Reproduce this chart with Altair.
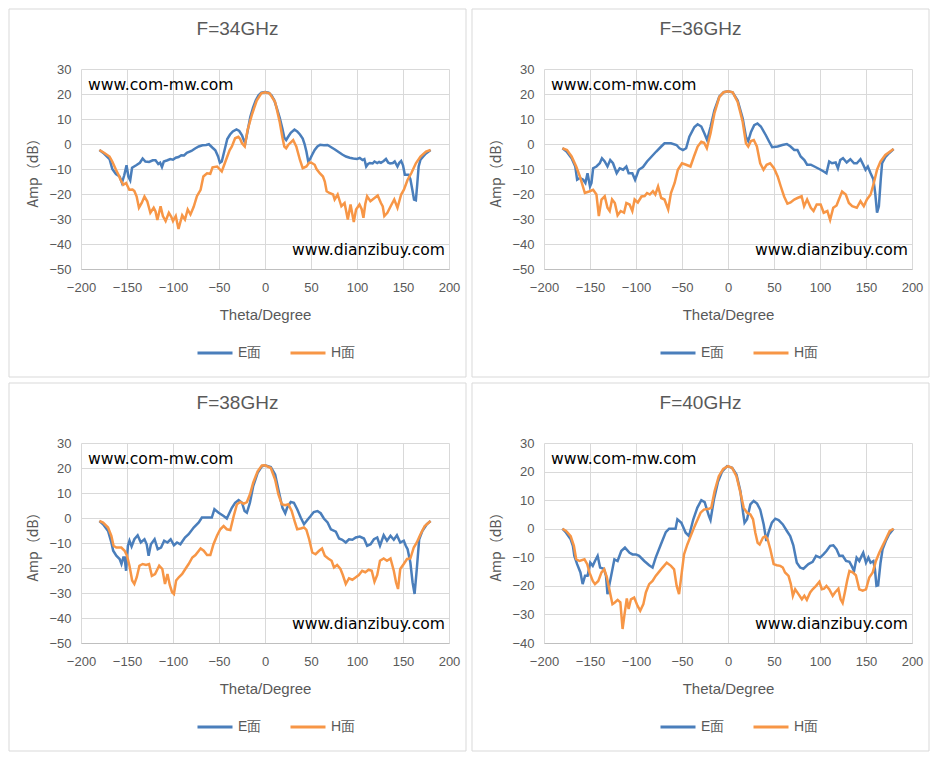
import altair as alt
import pandas as pd

# ---------------- data ----------------
E34_T = [-180,-175,-169,-166,-162,-158,-155.5,-153,-150.5,-148.5,-146.5,-144.5,-140,-136,-133,-130,-126,-122,-119,-116,-114,-112,-110,-106,-103,-100,-97,-94,-91,-88,-85,-80,-76,-72,-68,-64,-61,-57,-54,-51,-49,-47,-44,-41,-38,-35,-31,-28,-25,-23,-21.5,-19,-16,-13,-10,-7,-4,0,4,7,10,13,16,19,21,23,25,28,32,35,38,41,43,45,47,49,51,54,57,60,64,68,72,76,80,84,88,92,96,100,103,106,108,110,112,114,117,119,122,124,126,129,131.5,134,136,139,141,144,146,148,150,152,156,158,160,162,164,165.5,167,169,172,175,180]
E34_V = [-2.4,-3.8,-6,-10,-12,-13,-15.5,-12.5,-8.5,-13,-14.5,-9.5,-8.5,-7.5,-5.8,-7,-7.2,-6.5,-6.5,-8,-7.5,-9.2,-7,-6.5,-6,-6.3,-5.5,-5.2,-4.5,-4.6,-3.5,-2.8,-1.8,-1,-0.5,-0.4,-0.1,-1.5,-2.5,-5,-7.5,-7,-2.5,2,3.8,5,5.8,5.2,3.5,1.5,0.3,5,10.8,14.5,17.5,19.5,20.5,20.8,20.5,19.5,17.6,14.2,10.5,6,2.5,1.6,2.8,4.5,5.8,5,3.8,2.2,0,-3,-7,-6,-4.5,-2.4,-1,-0.3,-0.5,-0.4,-1.3,-2.2,-3.2,-4.2,-5,-5.5,-5.8,-6,-5.6,-6.4,-6,-9,-8,-7.6,-7.8,-7,-7.6,-7.2,-7.5,-6.8,-6,-7.5,-7.8,-7.6,-7,-9,-7.5,-6.8,-8.5,-12.3,-12.3,-14,-18,-22.2,-22.5,-16,-9,-6.3,-5,-3.8,-2.4]
H34_T = [-180,-175,-169,-166,-162,-159,-157,-154,-151,-147.5,-144,-142,-139.5,-137,-134,-131,-128,-124.6,-121,-119,-117,-113.5,-111,-108,-104.5,-102,-100,-97,-94,-90,-87,-84,-81,-77.5,-74,-70,-67,-63,-59.5,-57,-52,-49,-47,-44,-41,-38.5,-36,-32.5,-29,-27,-25,-22,-19,-14,-9,-4,0,5,11,16,19,21,23,25,27,30.6,34,38,41,45,48,50,54,56,59.5,63,65,67,70,74,75.7,79,83,86.5,90,93,96.5,99,102.7,105,107,109,111,114.6,119,122.5,126,128,129.7,133,137,140.5,144,148,151,155,159,164,169,175,180]
H34_V = [-2.4,-3.5,-5,-7,-10.3,-12.5,-14.3,-16.3,-15.6,-18.3,-18.2,-18.8,-21,-25.5,-23.6,-21,-22.9,-27.5,-25.5,-27,-30.4,-24.9,-28.8,-30.8,-27.5,-29,-30.8,-28.8,-34,-28.5,-30.2,-26.2,-28.2,-25.1,-20.9,-18.3,-13,-11.7,-11.9,-9.3,-9,-10.2,-11,-8,-5,-2.5,-1,2.3,2.9,2,0.3,-1,5.5,12,17.4,20.3,20.7,20.3,16.8,8.8,2.5,-1,-1.7,-0.5,0.3,1.6,-1,-6.4,-9.7,-9,-7.5,-7.4,-8.3,-10,-11.7,-13,-15,-18.9,-19.6,-20.2,-22.2,-20.2,-24.9,-23.6,-30.2,-24.2,-31.2,-26.2,-24.2,-26,-29.5,-24,-20.9,-22.9,-21.6,-20.6,-23.6,-25,-28.8,-27.5,-24.6,-22.2,-25.5,-20.2,-18.3,-14.3,-11.7,-7.7,-5,-3,-2.4]

E36_T = [-180,-175.5,-170,-166,-164,-161,-157.4,-155,-152.7,-150,-148.4,-146.6,-143,-139.4,-137,-134,-131,-128,-125,-121,-117.7,-114,-110.5,-108,-104,-101,-97,-92.4,-88,-83,-78,-72.6,-69,-62,-56,-52.7,-49,-45.5,-42,-36.5,-33,-29,-25.6,-22.7,-19,-14.8,-9.4,-4.7,0,5,10.5,16,19.5,22,25,28.5,32,35.7,41,44.8,48,54,59,64,68,72,75.5,79,83,86,90,95,100.7,104,107,110,113,117,119.5,122,125,129,133,137,140,144,147,149.5,152,155,158,160,162,164,166,167.5,171,175,180]
E36_V = [-1.7,-3,-5.7,-9,-14.3,-13.6,-14.3,-15.6,-11.7,-17,-15.6,-9.7,-9,-7.7,-5.7,-7,-9,-6.4,-7.7,-11.7,-9.7,-10.3,-9,-11.7,-11.7,-14.3,-10.3,-9.2,-7,-5,-3,-1,0.3,0.3,-0.4,-1.7,-2.4,-1.7,2.9,6.8,7.9,7,4.2,1.6,6.8,13.5,19,20.7,21.1,20.7,17.4,10.2,2.9,1.2,4.8,7.5,8.2,7,3.6,0.9,-1.3,-1,-0.4,0,-1,-2.4,-2.4,-5,-6.4,-8.3,-8.3,-9.2,-10.3,-11,-11.7,-7,-7.7,-7.4,-9.7,-6.4,-5.7,-7.4,-6.1,-7.7,-7.7,-6.1,-8.3,-10.3,-9,-11.7,-14.1,-19.6,-27.5,-24.9,-14.3,-7.7,-5.3,-3.7,-2]
H36_T = [-180,-175,-170,-165,-161,-155.6,-151,-146.6,-143,-140.4,-137.5,-134,-131,-128.6,-126,-123,-120,-116.6,-113,-110.5,-107,-104,-101.5,-98,-94,-90.6,-88,-85,-81.6,-79,-76,-72.6,-69,-65,-62,-58,-54.5,-50,-45.5,-40.8,-37,-33,-29,-26,-23,-19,-14.8,-9.4,-4.7,0,5,10.5,16,19.5,22,25,28,31.4,35,38.6,42,45.8,50,54,57.4,61,64.6,68,72,75.5,80,82.7,86,90,93,96.4,100.7,104,108,111,114.4,118,120.5,124,128,131.4,135,140,144,147.6,151,155,158.5,162,165.7,171,180]
H36_V = [-1.7,-2.4,-5,-9,-13,-19.6,-19,-18.3,-20.2,-28.8,-22.2,-20.9,-25.5,-26.8,-22.2,-23.6,-28.5,-26.8,-27.5,-23.6,-24.2,-26.8,-22.2,-23.4,-21,-20.8,-19.6,-20.2,-18.9,-20.2,-17,-21.6,-22.2,-26.2,-19.6,-15.6,-10.3,-7.7,-8.3,-9,-5,-1,0.9,0.5,-1.7,4.2,12.2,18.8,20.7,21.1,20.7,16.8,8.8,0.3,-1,1.2,1.6,-1,-7.7,-10.3,-8.3,-7.7,-9.7,-13,-17,-21,-23.9,-23.4,-22.2,-21.6,-20.9,-24.9,-22.2,-25.5,-26.8,-24.2,-24.2,-27.5,-26.8,-30.4,-25.5,-24.6,-22.2,-19,-20.2,-23.6,-24.9,-25.5,-22.9,-24.9,-22.2,-20.2,-15.6,-10.3,-7,-4.4,-2]

E38_T = [-180,-176,-170.6,-167,-165,-161.6,-158,-156,-154,-152.6,-151,-149,-147.3,-145,-142,-138.4,-135,-131,-128.6,-126.5,-124,-120,-116.6,-113,-109.6,-106,-102.5,-99,-95.6,-92,-87,-83,-77.5,-72,-68.6,-63,-57.8,-55,-50.4,-45,-41.5,-36,-32.5,-28.7,-25,-22.2,-19.7,-16.4,-12.8,-8,-3.4,0,6.3,11,15.3,19,22,24,28,31.4,35,38.8,42.4,46,49.6,53,57,60.5,64,68,71.6,77,80.5,84,87.8,91.3,95,98.7,103,107.6,111,114.8,118.4,122,125,129,132.6,136.4,140,143.4,147,150.8,153,155,158,160.4,162.6,165,167.6,171,175.8,180]
E38_V = [-1.2,-2.5,-5.2,-9.8,-13.1,-15.1,-16.4,-18.4,-15.8,-15.8,-21.1,-11.1,-9.1,-11.4,-8.5,-6.9,-9.8,-8.5,-10.5,-15.1,-10.5,-8.5,-12.5,-11.8,-9.1,-9.8,-8.5,-10.9,-9.8,-10.5,-7.8,-6.5,-3.8,-1.8,0.2,0.2,0.2,3.5,2.1,0.8,-0.2,4.1,6.1,7.2,6.1,2.8,2.1,6.1,12.8,18.1,20.7,21.1,20.4,17.4,10.1,4.1,1.9,4.1,6.4,6.1,3.5,0.2,-2.5,-0.8,0.8,2.4,2.8,1.9,-0.2,-1.8,-4.5,-5.5,-8.2,-8.7,-9.8,-8.5,-8.7,-7.8,-7.4,-8.2,-11.1,-10.5,-8.5,-7.8,-11.1,-6.9,-9.1,-7.1,-8.7,-6.9,-9.8,-9.1,-11.1,-12.5,-17.8,-25.7,-30.4,-20.4,-8.5,-5.2,-2.5,-1.2]
H38_T = [-180,-176,-170.6,-167,-164.6,-161.6,-156.2,-152.6,-150,-147.3,-144.4,-142,-139.4,-136.5,-133,-129.3,-126,-123,-119.5,-115,-111.6,-108.7,-106,-103.5,-101,-99,-96.6,-93.7,-90,-86.6,-83,-79,-75.6,-70,-66.6,-63,-59.4,-56,-52.2,-48.6,-45,-41.5,-37.7,-34,-30.5,-26.8,-23.3,-19.7,-16.4,-12.8,-8,-3.4,0,6.3,11,14.6,18.2,22,25.4,29,32.6,35,38.8,42.4,45,48,51.4,55,58.8,62,65,68.7,72.4,75,78.4,82,84.6,87.8,91.3,95,98.7,102,105.6,109,112.6,116,119,122,125,129,132.6,136.4,140,142.4,144.6,147,150.8,154.4,158,161.7,165,169,173.6,180]
H38_V = [-1.2,-1.8,-3.8,-7.1,-11.1,-11.8,-11.8,-13.1,-15.1,-19.1,-25,-26.4,-23.7,-19.1,-18.4,-18.8,-18.4,-23.1,-22.4,-19.1,-20.4,-26.4,-22.4,-26.8,-29.7,-30.4,-25,-23.7,-22.4,-20.4,-18.4,-15.8,-14.8,-12.2,-13.1,-14.8,-14.8,-10.5,-7.1,-4.5,-3.2,-4.5,-4.8,0.8,5.5,6.4,5.7,6.4,9.4,14.1,18.7,21,21.1,20,15.4,9.4,5.5,5.1,5.5,2.8,-1.8,-4.5,-4.2,-3.8,-4.8,-8.5,-13.8,-14.5,-13.1,-12.2,-15.1,-16.2,-17.1,-19.8,-18.8,-20.4,-22.8,-26.4,-24.1,-24.7,-23.7,-22.8,-21.1,-21.7,-20.7,-21.1,-25.5,-22.8,-17.1,-16.2,-17.1,-16.2,-21.1,-25.7,-28.4,-20.4,-18.4,-16.4,-16.2,-11.8,-9.8,-6.5,-3.2,-1.2]

E40_T = [-180,-176,-171,-168.6,-167,-164,-160.4,-158,-155.4,-152.6,-149.7,-147,-144.6,-141.7,-139,-135,-132.6,-131,-127,-123.5,-120,-116,-112,-107,-103.7,-100,-96.6,-91,-85.7,-82,-78.6,-73,-67.6,-64,-57,-55,-50.7,-46,-42.4,-37.7,-33.4,-29,-25.4,-20.7,-19,-15.3,-11,-6.3,-1,4.5,9.2,13.5,16.4,18,20.7,24.3,27.9,31.6,35,38.8,41.7,44,47.7,51.4,55,59.6,64,67.6,71,74.8,78.4,82,87.4,92,95.7,100,103.7,107,111,114.5,118,121,124.7,128.3,132,134.4,137,139.8,142.7,145.3,147,150,152.6,155,158,159.7,161.4,163.2,165.8,168,171.5,175,180]
E40_V = [0,-1.4,-3.7,-6,-9.5,-12.4,-15.3,-19.4,-16.5,-16.5,-11.9,-13,-11.3,-9.5,-13.6,-14,-16.5,-22.9,-16.5,-10.7,-11.3,-7.8,-6.6,-8.4,-9,-9,-9.5,-11.3,-12.8,-13.6,-10.1,-5.5,-1.2,0,0,3.3,2.1,-1.4,-2.6,3.3,7.3,10,9.3,4.4,3,10.2,16.3,20.1,21.9,21.3,19,13.1,5.6,2.1,3.3,8.5,9.7,8.8,6.7,1.5,-4.3,-1.4,2.1,3.5,3,1.5,-0.8,-2.6,-5.8,-11.9,-13.6,-14,-12.4,-11.6,-9.5,-10.1,-9,-7.8,-6,-5.8,-7.2,-9.5,-9.5,-11.3,-11.6,-13,-14.8,-10.1,-11.3,-9.5,-8.4,-11.9,-10.1,-11.9,-11.3,-14.2,-20,-19.8,-11.9,-7.2,-4.3,-2,0]
H40_T = [-180,-176,-171,-167.5,-165,-161.4,-156,-153,-150.6,-147,-144.6,-141,-137.5,-134.5,-131.6,-129,-125.6,-123,-120,-117,-114.6,-112.7,-110,-108,-105.5,-102,-98.3,-95.4,-92,-89.3,-85.7,-82,-78.6,-75,-71.2,-66.6,-62,-58.6,-55.8,-53.2,-50.7,-47.8,-44.2,-40.6,-37,-33.4,-29.8,-26.2,-20.7,-18.2,-14.6,-10,-5.2,0,4.5,9.2,13.5,17.1,20.7,24.3,27.2,29.7,32.2,34.4,38,40.6,43,46,49.6,53,56.8,59.6,62,65.8,68.3,70.5,73,76.6,80.3,83,85.7,89.3,92,95.7,99.3,102,104.4,107,110,113.8,116.3,120,122.4,124.6,127,129.7,132,135.5,139,142.7,146.4,150,153.5,157.3,160.8,164.4,168,171.5,175.8,180]
H40_V = [0,-0.8,-2.6,-6,-10.7,-11.3,-10.7,-12.4,-15.3,-18.3,-19.4,-18.3,-15.3,-14.2,-17.1,-21.2,-26.4,-25.8,-24.9,-25.8,-35.1,-30.5,-24.4,-28.1,-24.7,-24.1,-27,-28.7,-26.4,-22.3,-19.4,-18.3,-16.5,-15.1,-13.6,-11.9,-13,-14.2,-20,-22.9,-16.5,-9,-5.5,-2.6,0.3,3,5.6,6.7,7,7.3,13.1,18.4,20.9,21.9,21.3,18.4,12.6,7.3,5.6,5,3.3,-1.4,-4.9,-5.5,-3.1,-2.6,-3.7,-7.2,-12.4,-12.8,-13,-13.6,-15.3,-16.5,-19.4,-23.5,-21.2,-22.9,-24.7,-23.5,-24.9,-22.3,-21.2,-20,-18.6,-21.2,-21,-20,-21.2,-23.5,-22.3,-21,-24.7,-26,-22.3,-17.9,-14.8,-15.3,-16.3,-21.2,-21.7,-21.2,-17.1,-15.3,-11.3,-8.4,-6,-3.7,-0.8,0]

TITLES = ["F=34GHz", "F=36GHz", "F=38GHz", "F=40GHz"]
SERIES = ["E面", "H面"]
COLORS = ["#4A7EBB", "#F79646"]
X_TICKS = [-200, -150, -100, -50, 0, 50, 100, 150, 200]
Y_RANGES = [(-50, 30), (-50, 30), (-50, 30), (-40, 30)]
WM_TOP = "www.com-mw.com"
WM_BOTTOM = "www.dianzibuy.com"

PANELS = [
    (E34_T, E34_V, H34_T, H34_V),
    (E36_T, E36_V, H36_T, H36_V),
    (E38_T, E38_V, H38_T, H38_V),
    (E40_T, E40_V, H40_T, H40_V),
]

W = 368
H = 200
FONT = "Liberation Sans"
CJK = "Noto Sans CJK SC"
GREY = "#595959"

one = pd.DataFrame({"k": [0]})


def make_panel(i):
    eT, eV, hT, hV = PANELS[i]
    df = pd.concat([
        pd.DataFrame({"theta": eT, "amp": eV, "series": SERIES[0]}),
        pd.DataFrame({"theta": hT, "amp": hV, "series": SERIES[1]}),
    ], ignore_index=True)
    ylo, yhi = Y_RANGES[i]

    frame = alt.Chart(one).mark_rect(fill="white", fillOpacity=0, stroke="#D9D9D9", strokeWidth=1).encode(
        x=alt.value(-72), x2=alt.value(W + 17), y=alt.value(-60), y2=alt.value(H + 108)
    )

    lines = alt.Chart(df).mark_line(strokeWidth=2.5).encode(
        x=alt.X("theta:Q",
                scale=alt.Scale(domain=[-200, 200], nice=False, zero=False),
                axis=alt.Axis(values=X_TICKS, title="Theta/Degree", ticks=False,
                              labelFlush=False, labelPadding=12, titlePadding=13,
                              domain=True, domainColor="#BFBFBF")),
        y=alt.Y("amp:Q",
                scale=alt.Scale(domain=[ylo, yhi], nice=False, zero=False),
                axis=alt.Axis(values=list(range(ylo, yhi + 1, 10)), title="Amp（dB）",
                              titleFont=CJK, titleFontSize=14,
                              ticks=False, domain=False, labelPadding=10, titlePadding=8)),
        color=alt.Color("series:N",
                        scale=alt.Scale(domain=SERIES, range=COLORS),
                        legend=alt.Legend(orient="none", legendX=115, legendY=H + 65,
                                          direction="horizontal", title=None,
                                          symbolType="stroke", symbolSize=1225,
                                          symbolStrokeWidth=3, labelFontSize=14,
                                          labelFont=FONT,
                                          labelColor=GREY, columnPadding=22,
                                          labelOffset=4, padding=0)),
    )

    title = alt.Chart(one).mark_text(fontSize=19, color=GREY, font=FONT,
                                     align="center", baseline="middle").encode(
        x=alt.value((W - 55) / 2), y=alt.value(-40), text=alt.value(TITLES[i])
    )
    wm1 = alt.Chart(one).mark_text(fontSize=15.6, color="black", font="DejaVu Sans",
                                   align="left", baseline="middle").encode(
        x=alt.value(7), y=alt.value(16), text=alt.value(WM_TOP)
    )
    wm2 = alt.Chart(one).mark_text(fontSize=15.6, color="black", font="DejaVu Sans",
                                   align="right", baseline="middle").encode(
        x=alt.value(W - 4), y=alt.value(H - 19), text=alt.value(WM_BOTTOM)
    )
    return alt.layer(frame, lines, title, wm1, wm2).properties(width=W, height=H)


chart = alt.concat(*[make_panel(i) for i in range(4)], columns=2, spacing=4).resolve_scale(
    color="independent"
).properties(padding=0).configure(font=FONT, background="white").configure_view(
    stroke="transparent"
).configure_axis(
    labelFontSize=13, labelColor=GREY, titleFontSize=15, titleColor=GREY,
    titleFontWeight="normal", gridColor="#D9D9D9", labelFont=FONT, titleFont=FONT
)

chart.save("out.html", embed_options={"renderer": "svg", "actions": False})
